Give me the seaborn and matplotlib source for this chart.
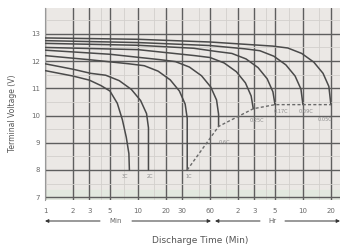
import numpy as np
import pandas as pd
import seaborn as sns
import matplotlib
matplotlib.use("Agg")
import matplotlib.pyplot as plt
from matplotlib.patches import FancyArrowPatch
from matplotlib.ticker import FixedLocator, NullFormatter

# discharge curves: time in minutes, terminal voltage in V
curves = {
    "3C": ([1, 2, 3, 4, 5, 6, 6.8, 7.5, 8.0, 8.1],
           [11.65, 11.45, 11.3, 11.1, 10.9, 10.45, 9.85, 9.2, 8.6, 8.0]),
    "2C": ([1, 2, 3.1, 4.5, 6.3, 8.5, 10.7, 12.4, 13, 13],
           [11.9, 11.7, 11.55, 11.48, 11.28, 10.96, 10.55, 10.07, 9.55, 8.0]),
    "1C": ([1, 3, 8, 11.7, 16.5, 22.3, 28, 32.3, 34, 34],
           [12.2, 12.05, 11.9, 11.83, 11.63, 11.31, 10.9, 10.42, 9.9, 8.0]),
    "0.6C": ([1, 5, 17.5, 25.4, 35.9, 48.5, 60.9, 70.4, 74, 74],
             [12.4, 12.25, 12.05, 11.98, 11.78, 11.46, 11.05, 10.57, 10.05, 9.6]),
    "0.25C": ([1, 10, 41, 60, 85, 115, 144, 166, 175],
              [12.5, 12.42, 12.2, 12.13, 11.93, 11.61, 11.2, 10.72, 10.25]),
    "0.17C": ([1, 10, 40, 71, 103, 146, 197, 247, 285, 300],
              [12.65, 12.58, 12.47, 12.35, 12.28, 12.08, 11.76, 11.35, 10.87, 10.4]),
    "0.09C": ([1, 10, 60, 142, 206, 291, 393, 494, 571, 600],
              [12.75, 12.68, 12.57, 12.45, 12.38, 12.18, 11.86, 11.45, 10.97, 10.4]),
    "0.05C": ([1, 10, 60, 283, 412, 582, 786, 988, 1141, 1200],
              [12.85, 12.8, 12.7, 12.55, 12.48, 12.28, 11.96, 11.55, 11.07, 10.4]),
}

# final discharge voltage line
end_t = [34, 74, 175, 300, 600, 1200]
end_v = [8.0, 9.6, 10.25, 10.4, 10.4, 10.4]

# curve labels and where they sit
label_pos = {
    "3C": (7.3, 7.75), "2C": (13.4, 7.75), "1C": (35, 7.75),
    "0.6C": (86, 9.0), "0.25C": (190, 9.8), "0.17C": (345, 10.13),
    "0.09C": (640, 10.13), "0.05C": (1040, 9.84),
}

xticks = [1, 2, 3, 5, 10, 20, 30, 60, 120, 180, 300, 600, 1200]
xticklabels = ["1", "2", "3", "5", "10", "20", "30", "60", "2", "3", "5", "10", "20"]
yticks = [7, 8, 9, 10, 11, 12, 13]

sns.set_theme(style="white")
plt.rcParams["font.family"] = ["DejaVu Sans"]

fig = plt.figure(figsize=(3.44, 2.49), dpi=100)
ax = fig.add_axes([0.131, 0.197, 0.857, 0.771])
ax.set_facecolor("#ebe8e5")

ax.set_xscale("log")
ax.set_xlim(1, 1500)
ax.set_ylim(6.9, 13.95)

# pale band along the bottom
ax.axhspan(6.9, 7.25, color="#e2e9df", zorder=0)

ax.xaxis.set_major_locator(FixedLocator(xticks))
ax.set_xticklabels(xticklabels)
ax.xaxis.set_minor_locator(FixedLocator([4, 7, 15, 45, 90, 240, 420, 900]))
ax.xaxis.set_minor_formatter(NullFormatter())
ax.set_yticks(yticks)
ax.yaxis.set_minor_locator(FixedLocator(list(np.arange(7.5, 14, 1.0))))

ax.grid(which="major", color="#5e5e5e", linewidth=1.0, zorder=1)
ax.grid(which="minor", color="#d3d0cc", linewidth=0.6, zorder=1)
ax.set_axisbelow(True)

for name, (t, v) in curves.items():
    df = pd.DataFrame({"t": t, "v": v})
    sns.lineplot(data=df, x="t", y="v", ax=ax, color="#4a4a4a", linewidth=1.1,
                 sort=False, estimator=None, zorder=3)
    lx, ly = label_pos[name]
    ax.text(lx, ly, name, fontsize=3.6, color="#8a8a8a", ha="center", va="center", zorder=4)

sns.lineplot(x=end_t, y=end_v, ax=ax, color="#6a6a6a", linewidth=1.0,
             linestyle=(0, (2.2, 1.6)), sort=False, estimator=None, zorder=3)

for s in ["top", "right", "bottom"]:
    ax.spines[s].set_visible(False)
ax.spines["left"].set_color("#999999")
ax.spines["left"].set_linewidth(0.8)

ax.tick_params(axis="both", which="both", length=0, labelsize=5, colors="#6a6a6a")
ax.tick_params(axis="x", pad=6)
ax.set_xlabel("")
ax.set_ylabel("Terminal Voltage (V)", fontsize=5.5, color="#555555")
ax.yaxis.set_label_coords(-0.095, 0.45)

# min / hr arrows under the ticks
ya = 1 - 221 / 249
arr = dict(arrowstyle="-|>", color="#333333", lw=0.7, mutation_scale=5, shrinkA=0, shrinkB=0)
for x0, x1 in [(100, 45), (132, 211), (260, 215), (285, 340)]:
    fig.add_artist(FancyArrowPatch((x0 / 344, ya), (x1 / 344, ya),
                                   transform=fig.transFigure, **arr))
fig.text(116 / 344, ya, "Min", fontsize=5, color="#666666", ha="center", va="center")
fig.text(272 / 344, ya, "Hr", fontsize=5, color="#666666", ha="center", va="center")
fig.text(200 / 344, 1 - 240 / 249, "Discharge Time (Min)", fontsize=6.5, color="#555555",
         ha="center", va="center")

fig.savefig("out.png", dpi=100, facecolor="white")
